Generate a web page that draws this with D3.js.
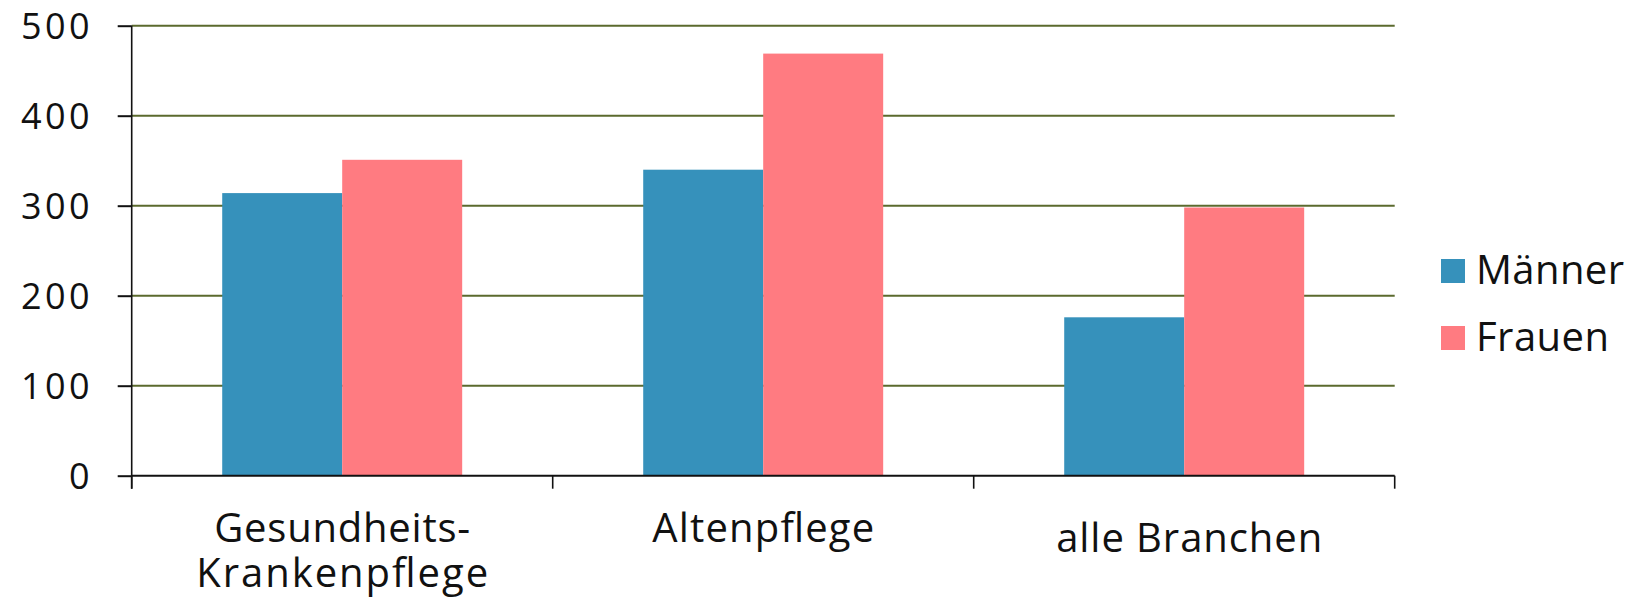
<!DOCTYPE html>
<html lang="de">
<head>
<meta charset="utf-8">
<script src="https://cdn.jsdelivr.net/npm/d3@7"></script>
<style>
  html, body { margin: 0; padding: 0; background: #fff; }
  svg { display: block; }
  text { font-family: "Open Sans", sans-serif; fill: #111; }
</style>
</head>
<body>
<div id="chart"></div>
<script>
// Categories (label lines) and the two series
const categories = ["Gesundheits-Krankenpflege", "Altenpflege", "alle Branchen"];
const categoryLines = [["Gesundheits-", "Krankenpflege"], ["Altenpflege"], ["alle Branchen"]];
const seriesNames = ["Männer", "Frauen"];
const maenner = [314, 340, 176];
const frauen = [351, 469, 298];
const yTicks = [0, 100, 200, 300, 400, 500];

const colors = { "Männer": "#3691bb", "Frauen": "#ff7b81" };

const W = 1640, H = 603;
const margin = { top: 25.7, left: 131.7, right: 245.3, bottom: 127.3 };
const iw = W - margin.left - margin.right;
const ih = H - margin.top - margin.bottom;

const rows = categories.map((c, i) => ({ cat: c, lines: categoryLines[i], "Männer": maenner[i], "Frauen": frauen[i] }));

const svg = d3.select("#chart").append("svg").attr("width", W).attr("height", H);
const g = svg.append("g").attr("transform", `translate(${margin.left},${margin.top})`);

const x0 = d3.scaleBand().domain(categories).range([0, iw]).paddingInner(0.43).paddingOuter(0.215);
const x1 = d3.scaleBand().domain(seriesNames).range([0, x0.bandwidth()]);
const y = d3.scaleLinear().domain([0, 500]).range([ih, 0]);

// Horizontal gridlines
g.append("g").selectAll("line").data(yTicks.filter(t => t > 0)).join("line")
  .attr("x1", 0).attr("x2", iw)
  .attr("y1", d => y(d)).attr("y2", d => y(d))
  .attr("stroke", "#5b6a2e").attr("stroke-width", 2);

// Bars
g.append("g").selectAll("g").data(rows).join("g")
  .attr("transform", d => `translate(${x0(d.cat)},0)`)
  .selectAll("rect").data(d => seriesNames.map(s => ({ s, v: d[s] }))).join("rect")
  .attr("x", d => x1(d.s))
  .attr("y", d => y(d.v))
  .attr("width", x1.bandwidth())
  .attr("height", d => y(0) - y(d.v))
  .attr("fill", d => colors[d.s]);

// Y axis
const yAxis = g.append("g")
  .call(d3.axisLeft(y).tickValues(yTicks).tickSize(14).tickPadding(24.5).tickFormat(d3.format("d")));
yAxis.select(".domain").attr("d", `M0,${y(500)}V${ih + 13}`).attr("stroke", "#111").attr("stroke-width", 1.6);
yAxis.selectAll(".tick line").attr("stroke", "#111").attr("stroke-width", 2);
yAxis.selectAll(".tick text")
  .style("font-family", "'Open Sans', sans-serif")
  .attr("font-size", 36).attr("letter-spacing", 3.5).attr("dy", 13).attr("fill", "#111");

// X axis: baseline and category boundary ticks
const xAxis = g.append("g").attr("transform", `translate(0,${ih})`);
xAxis.append("line").attr("x1", 0).attr("x2", iw).attr("stroke", "#111").attr("stroke-width", 2);
const bounds = d3.range(categories.length + 1).map(i => i * x0.step());
xAxis.selectAll("line.b").data(bounds).join("line").attr("class", "b")
  .attr("x1", d => d).attr("x2", d => d).attr("y1", 0).attr("y2", 13)
  .attr("stroke", "#111").attr("stroke-width", 1.6);

// Category labels, one text per line, spread to the set line widths
const labelBase = [66, 66, 76];
const labelWidth = { "Gesundheits-": 256, "Krankenpflege": 292, "Altenpflege": 222, "alle Branchen": 266 };
const labelShift = [0, 0, 5];
const labelItems = rows.flatMap((d, i) => d.lines.map((line, j) => ({
  line, x: x0(d.cat) + x0.bandwidth() / 2 + labelShift[i], y: labelBase[i] + j * 45
})));
xAxis.selectAll("text.cat").data(labelItems).join("text").attr("class", "cat")
  .attr("x", d => d.x).attr("y", d => d.y)
  .attr("text-anchor", "middle")
  .attr("font-size", 40)
  .attr("textLength", d => labelWidth[d.line])
  .attr("lengthAdjust", "spacing")
  .text(d => d.line);

// Legend
const legendWidth = { "Männer": 148, "Frauen": 133 };
const legend = svg.append("g").attr("transform", "translate(1441,259)");
const li = legend.selectAll("g").data(seriesNames).join("g")
  .attr("transform", (d, i) => `translate(0,${i * 67})`);
li.append("rect").attr("width", 24).attr("height", 24).attr("fill", d => colors[d]);
li.append("text").attr("x", 35).attr("y", 25).attr("font-size", 40)
  .attr("textLength", d => legendWidth[d]).attr("lengthAdjust", "spacing")
  .text(d => d);
</script>
</body>
</html>
